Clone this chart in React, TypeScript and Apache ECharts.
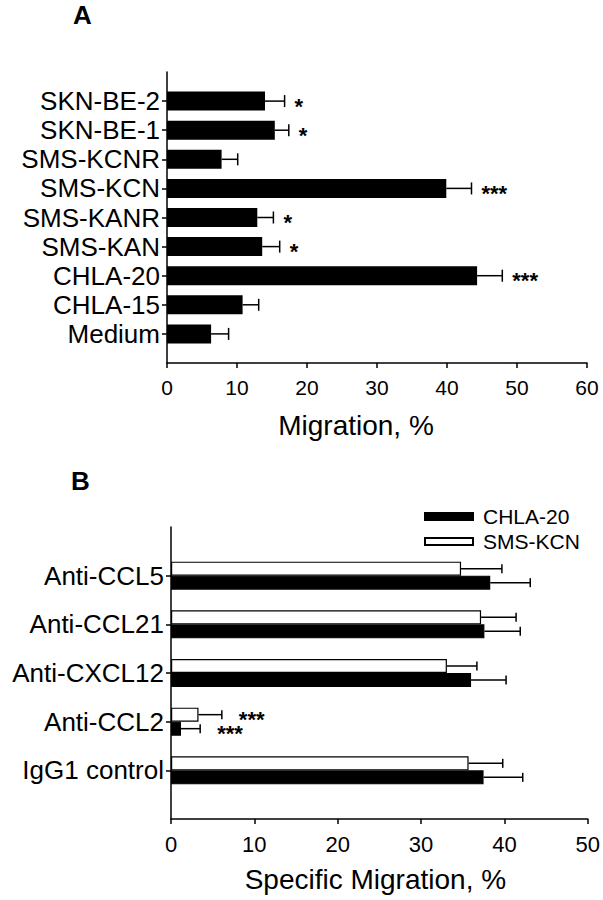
import React, { useEffect, useRef } from 'react';
import * as echarts from 'echarts';

// Panel A (bottom-to-top order)
const catsA = ['Medium', 'CHLA-15', 'CHLA-20', 'SMS-KAN', 'SMS-KANR', 'SMS-KCN', 'SMS-KCNR', 'SKN-BE-1', 'SKN-BE-2'];
const meansA = [6.3, 10.8, 44.3, 13.6, 12.9, 39.9, 7.8, 15.4, 14.0];
const errsA = [2.5, 2.3, 3.6, 2.5, 2.3, 3.6, 2.3, 2.0, 2.8];
const sigA = ['', '', '***', '*', '*', '***', '', '*', '*'];
const ticksA = [0, 10, 20, 30, 40, 50, 60];

// Panel B (bottom-to-top order)
const catsB = ['IgG1 control', 'Anti-CCL2', 'Anti-CXCL12', 'Anti-CCL21', 'Anti-CCL5'];
const chla20Means = [37.5, 1.2, 36.0, 37.6, 38.3];
const chla20Errs = [4.7, 2.3, 4.2, 4.3, 4.8];
const chla20Sig = ['', '***', '', '', ''];
const kcnMeans = [35.7, 3.3, 33.1, 37.2, 34.8];
const kcnErrs = [4.1, 2.8, 3.6, 4.2, 4.9];
const kcnSig = ['', '***', '', '', ''];
const ticksB = [0, 10, 20, 30, 40, 50];

const FONT = '"Liberation Sans", Arial, Helvetica, sans-serif';

const pad = (arr: string[]) => ['', ...arr, ''];

function errSeries(name: string, xi: number, means: number[], errs: number[], sig: string[], off: number, cap: number, gap: number) {
  return {
    type: 'custom',
    name,
    xAxisIndex: xi,
    yAxisIndex: xi,
    silent: true,
    z: 5,
    encode: { x: 0, y: 2 },
    data: means.map((m, i) => [m, errs[i], i + 1]),
    renderItem: (params: any, api: any) => {
      const m = api.value(0);
      const e = api.value(1);
      const idx = api.value(2);
      const p0 = api.coord([m, idx]);
      const p1 = api.coord([m + e, idx]);
      const y = p0[1] + off;
      const st = { stroke: '#000', lineWidth: 1.5 };
      const children: any[] = [
        { type: 'line', shape: { x1: p0[0], y1: y, x2: p1[0], y2: y }, style: st },
        { type: 'line', shape: { x1: p1[0], y1: y - cap, x2: p1[0], y2: y + cap }, style: st },
      ];
      const s = sig[params.dataIndex];
      if (s) {
        children.push({
          type: 'text',
          style: {
            text: s,
            x: p1[0] + gap,
            y: y + 5,
            fill: '#000',
            font: `bold 22px ${FONT}`,
            textAlign: 'left',
            textVerticalAlign: 'middle',
          },
        });
      }
      return { type: 'group', children };
    },
  };
}

export default function App() {
  const ref = useRef<HTMLDivElement>(null);
  useEffect(() => {
    const chart = echarts.init(ref.current!, null, { renderer: 'svg' });
    const axisLine = { show: true, lineStyle: { color: '#000', width: 1.5 } };
    const axisTick = { show: true, length: 5, lineStyle: { color: '#000', width: 1.5 } };
    const option: any = {
      animation: false,
      backgroundColor: '#fff',
      textStyle: { fontFamily: FONT, color: '#000' },
      graphic: [
        { type: 'text', left: 73, top: 2, style: { text: 'A', font: `bold 26px ${FONT}`, fill: '#000' } },
        { type: 'text', left: 71, top: 468, style: { text: 'B', font: `bold 26px ${FONT}`, fill: '#000' } },
      ],
      legend: {
        data: ['CHLA-20', 'SMS-KCN'],
        orient: 'vertical',
        left: 419,
        top: 501,
        itemWidth: 48,
        itemHeight: 7,
        itemGap: 4,
        icon: 'rect',
        selectedMode: false,
        textStyle: { fontSize: 21, fontFamily: FONT, color: '#000', padding: [0, 0, 0, 5] },
      },
      grid: [
        { left: 167, top: 72, width: 420, height: 291 },
        { left: 171, top: 527, width: 419, height: 292 },
      ],
      xAxis: [
        {
          type: 'value', gridIndex: 0, min: ticksA[0], max: ticksA[ticksA.length - 1], interval: 10,
          splitLine: { show: false }, axisLine, axisTick,
          axisLabel: { fontSize: 21, color: '#000', margin: 14, fontFamily: FONT },
          name: 'Migration, %', nameLocation: 'middle', nameGap: 48,
          nameTextStyle: { fontSize: 28, color: '#000', fontFamily: FONT, padding: [0, 42, 0, 0] },
        },
        {
          type: 'value', gridIndex: 1, min: ticksB[0], max: ticksB[ticksB.length - 1], interval: 10,
          splitLine: { show: false }, axisLine, axisTick,
          axisLabel: { fontSize: 22, color: '#000', margin: 14, fontFamily: FONT },
          name: 'Specific Migration, %', nameLocation: 'middle', nameGap: 46,
          nameTextStyle: { fontSize: 28, color: '#000', fontFamily: FONT, padding: [0, 8, 0, 0] },
        },
      ],
      yAxis: [
        {
          type: 'category', gridIndex: 0, data: pad(catsA), boundaryGap: false,
          axisLine, axisTick: { ...axisTick, interval: (i: number, v: string) => v !== '' },
          axisLabel: { fontSize: 26, color: '#000', margin: 7, fontFamily: FONT, interval: 0 },
        },
        {
          type: 'category', gridIndex: 1, data: pad(catsB), boundaryGap: false,
          axisLine, axisTick: { ...axisTick, interval: (i: number, v: string) => v !== '' },
          axisLabel: { fontSize: 26, color: '#000', margin: 7, fontFamily: FONT, interval: 0 },
        },
      ],
      series: [
        {
          type: 'bar', name: 'A', xAxisIndex: 0, yAxisIndex: 0, barWidth: 19, silent: true,
          itemStyle: { color: '#000' },
          data: [null, ...meansA, null],
        },
        errSeries('errA', 0, meansA, errsA, sigA, 0, 6, 10),
        {
          type: 'bar', name: 'SMS-KCN', xAxisIndex: 1, yAxisIndex: 1, barWidth: 14, barGap: '0%', silent: true,
          itemStyle: { color: '#fff', borderColor: '#000', borderWidth: 1.2 },
          data: [null, ...kcnMeans, null],
        },
        {
          type: 'bar', name: 'CHLA-20', xAxisIndex: 1, yAxisIndex: 1, barWidth: 14, barGap: '0%', silent: true,
          itemStyle: { color: '#000', borderColor: '#000', borderWidth: 1.2 },
          data: [null, ...chla20Means, null],
        },
        errSeries('errKCN', 1, kcnMeans, kcnErrs, kcnSig, -7, 4.5, 17),
        errSeries('errCHLA', 1, chla20Means, chla20Errs, chla20Sig, 7, 4.5, 17),
      ],
    };
    chart.setOption(option);
    return () => chart.dispose();
  }, []);
  return (
    <div
      ref={ref}
      style={{ position: 'absolute', left: 0, top: 0, width: 603, height: 900, background: '#fff' }}
    />
  );
}
